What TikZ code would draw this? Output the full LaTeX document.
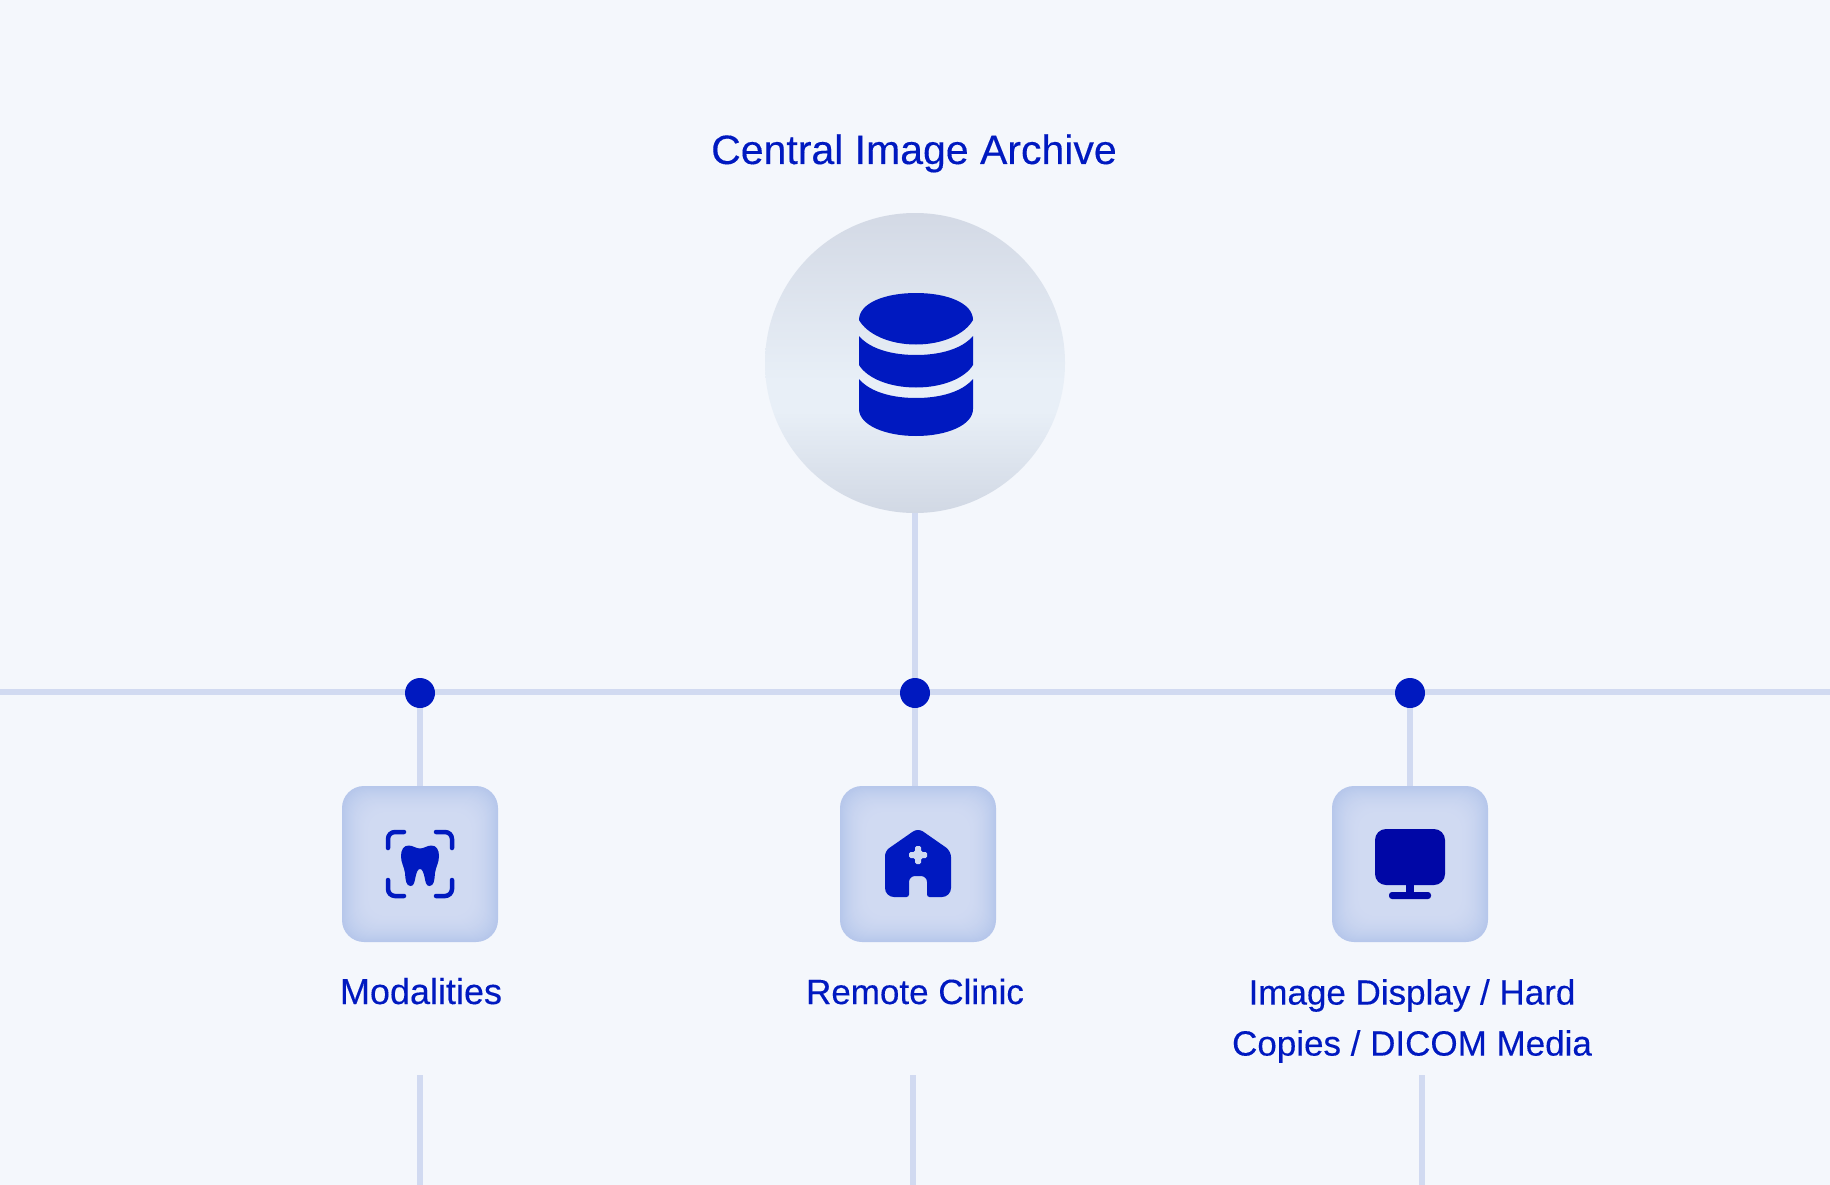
\documentclass[tikz,border=0pt]{standalone}
\usepackage{fontspec}
\setmainfont[FakeBold=0.25]{Liberation Sans}
\definecolor{bgc}{HTML}{F4F7FC}
\definecolor{linec}{HTML}{D1DAF1}
\definecolor{blu}{HTML}{0019C0}
\definecolor{dblu}{HTML}{0007A6}
\definecolor{boxedge}{HTML}{B6C7EB}
\definecolor{boxmid}{HTML}{D0DAF2}
\definecolor{ctop}{HTML}{D3D9E5}
\definecolor{cmid}{HTML}{E8EFF7}
\definecolor{cbot}{HTML}{D1D8E4}
\pgfdeclareverticalshading{hubshade}{100bp}{
 color(0bp)=(cbot); color(25bp)=(cbot); color(42bp)=(cmid); color(47bp)=(cmid); color(75bp)=(ctop); color(100bp)=(ctop)}
\tikzset{
 x=1pt,y=-1pt,
 conn/.style={draw=linec,line width=6pt},
 dotnode/.style={circle,fill=blu,minimum size=30pt,inner sep=0pt},
 lab/.style={text=blu,font=\fontsize{35}{51}\selectfont,align=center,inner sep=0pt},
 hub/.style={circle,minimum size=300pt,inner sep=0pt,shading=hubshade},
 ibox/.style={minimum size=156pt,inner sep=0pt},
 iconline/.style={blu,line width=4.5pt,line cap=round,rounded corners=7pt}
}
\newcommand{\glowbox}[2]{%
 \foreach \d [evaluate=\d as \m using {100*(1-\d/30)^2}, evaluate=\d as \rr using {max(22-\d*0.2,12)}] in {0,1,...,30}{%
  \fill[fill=boxedge!\m!boxmid,rounded corners=\rr pt]
   (#1-78+\d,#2-78+\d) rectangle (#1+78-\d,#2+78-\d);}}
\begin{document}
\begin{tikzpicture}
\useasboundingbox (0,0) rectangle (1830,1185);
\fill[bgc] (0,0) rectangle (1830,1185);
\coordinate (L) at (0,692);\coordinate (R) at (1830,692);
\node[hub] (H) at (915,363) {};
\node[ibox] (B1) at (420,864) {};
\node[ibox] (B2) at (918,864) {};
\node[ibox] (B3) at (1410,864) {};
\coordinate (C1) at (420,693);\coordinate (C2) at (915,693);\coordinate (C3) at (1410,693);
\draw[conn] (L) -- (R);
\draw[conn] (H.south) -- (C2);
\draw[conn] (C1) -- (C1 |- B1.north);
\draw[conn] (C2) -- (C2 |- B2.north);
\draw[conn] (C3) -- (C3 |- B3.north);
\node[dotnode] (D1) at (C1) {};
\node[dotnode] (D2) at (C2) {};
\node[dotnode] (D3) at (C3) {};
\glowbox{420}{864}
\glowbox{918}{864}
\glowbox{1410}{864}
% hub icon
\fill[blu] (859,320) .. controls (859,303) and (885,293) .. (916,293) .. controls (947,293) and (973,303) .. (973,320) .. controls (965,334) and (943,344.5) .. (916,344.5) .. controls (889,344.5) and (867,334) .. (859,320) -- cycle;
\fill[blu] (859,336) .. controls (870,349) and (892,355) .. (916,355) .. controls (940,355) and (962,349) .. (973,336) -- (973,365) .. controls (965,378) and (943,387.5) .. (916,387.5) .. controls (889,387.5) and (867,378) .. (859,365) -- cycle;
\fill[blu] (859,379) .. controls (870,392) and (892,398) .. (916,398) .. controls (940,398) and (962,392) .. (973,379) -- (973,409) .. controls (973,425) and (947,436) .. (916,436) .. controls (885,436) and (859,425) .. (859,409) -- cycle;
% tooth scan icon
\draw[iconline] (388,848) -- (388,832) -- (404,832);
\draw[iconline] (436,832) -- (452,832) -- (452,848);
\draw[iconline] (388,880) -- (388,896) -- (404,896);
\draw[iconline] (436,896) -- (452,896) -- (452,880);
\fill[blu] (420,848.5) .. controls (416,848.5) and (413,845.5) .. (408.5,845.5) .. controls (403.5,845.5) and (401,850) .. (401,856) .. controls (401,863) and (404,866) .. (405,873) .. controls (405.5,880) and (406,886) .. (410.5,886) .. controls (414,886) and (414.5,882) .. (415.5,877) .. controls (416.5,872) and (418,869) .. (420,869) .. controls (422,869) and (423.5,872) .. (424.5,877) .. controls (425.5,882) and (426,886) .. (429.5,886) .. controls (434,886) and (434.5,880) .. (435,873) .. controls (436,866) and (439,863) .. (439,856) .. controls (439,850) and (436.5,845.5) .. (431.5,845.5) .. controls (427,845.5) and (424,848.5) .. (420,848.5) -- cycle;
% clinic icon
\fill[blu] (897,897) [rounded corners=9pt] -- (885,897) [rounded corners=5pt] -- (885,851) [rounded corners=6pt] -- (918,828) -- (951,851) [rounded corners=9pt] -- (951,897) [rounded corners=2.5pt] -- (927,897) [rounded corners=6pt] -- (927,876) -- (909,876) [rounded corners=2.5pt] -- (909,897) -- cycle;
\fill[boxmid,rounded corners=1.5pt] (915,846) -- (921,846) -- (921,852) -- (927,852) -- (927,858) -- (921,858) -- (921,864) -- (915,864) -- (915,858) -- (909,858) -- (909,852) -- (915,852) -- cycle;
% monitor icon
\fill[dblu,rounded corners=11pt] (1375,829) rectangle (1445,885);
\fill[dblu] (1406,885) rectangle (1414,893);
\fill[dblu,rounded corners=3pt] (1389,892) rectangle (1431,899);
% labels
\node[lab,anchor=base,font=\fontsize{41}{50}\selectfont] (T0) at (914,164) {Central Image Archive};
\node[lab,anchor=base,font=\fontsize{36}{51}\selectfont] (T1) at (421,1004) {Modalities};
\node[lab,anchor=base] (T2) at (915,1004) {Remote Clinic};
\node[lab] (T3) at (1412,1021) {Image Display / Hard\\Copies / DICOM Media};
% lower stubs
\coordinate (S1) at (420,1075);\coordinate (E1) at (420,1185);
\coordinate (S2) at (913,1075);\coordinate (E2) at (913,1185);
\coordinate (S3) at (1422,1075);\coordinate (E3) at (1422,1185);
\draw[conn] (S1) -- (E1);
\draw[conn] (S2) -- (E2);
\draw[conn] (S3) -- (E3);
\end{tikzpicture}
\end{document}
